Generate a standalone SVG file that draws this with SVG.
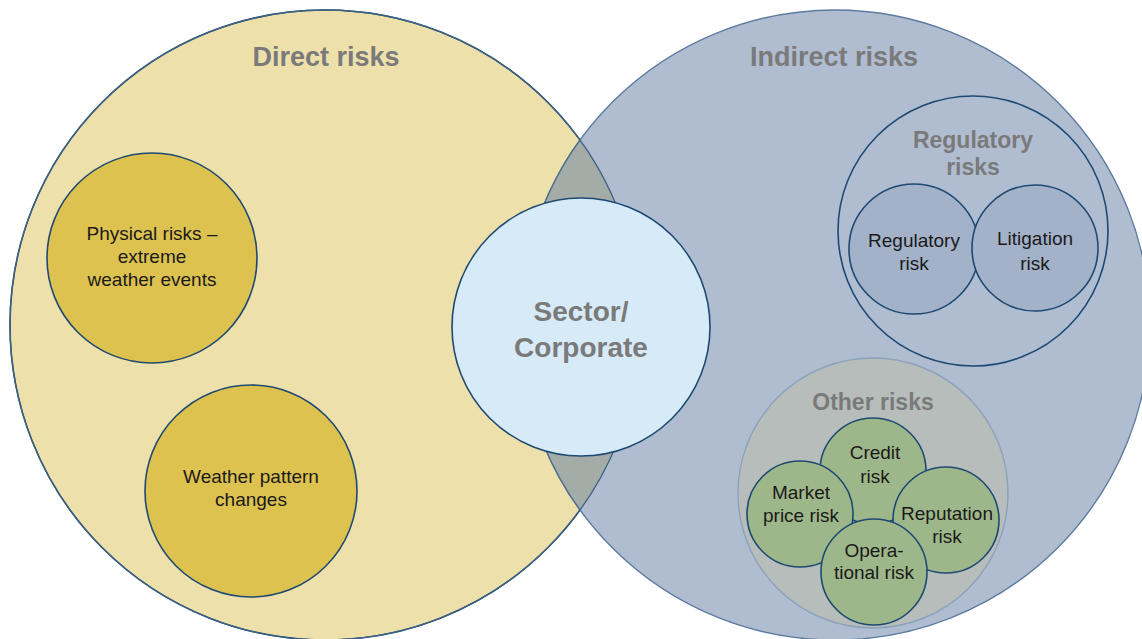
<svg xmlns="http://www.w3.org/2000/svg" width="1142" height="639" viewBox="0 0 1142 639">
  <defs>
    <clipPath id="clipDirect">
      <circle cx="325" cy="325" r="315"/>
    </clipPath>
    <style>
      .title { font-family: "Liberation Sans", Arial, sans-serif; font-weight: bold; fill: #7a7a7a; text-anchor: middle; }
      .label { font-family: "Liberation Sans", Arial, sans-serif; font-size: 19px; fill: #1a1a1a; text-anchor: middle; }
      .navy { stroke: #1d4a72; stroke-width: 1.6; }
    </style>
  </defs>
  <rect width="1142" height="639" fill="#ffffff"/>

  <!-- Direct risks -->
  <g id="direct-risks">
    <circle cx="325" cy="325" r="315" fill="#eee0ab" class="navy"/>
    <text class="title" x="326" y="66" font-size="27">Direct risks</text>
  </g>

  <!-- Indirect risks -->
  <g id="indirect-risks">
    <circle cx="835" cy="325" r="315" fill="#b0bdd1" stroke="#5d7ba0" stroke-width="1.4"/>
    <text class="title" x="834" y="66" font-size="27">Indirect risks</text>
  </g>

  <!-- Overlap of the two spheres -->
  <g id="overlap">
    <circle cx="835" cy="325" r="315" fill="#a3aca7" stroke="#4f6f90" stroke-width="1.4" clip-path="url(#clipDirect)"/>
    <circle cx="325" cy="325" r="315" fill="none" stroke="#3e6283" stroke-width="1.3"/>
  </g>

  <!-- Physical risks -->
  <g id="physical-risks">
    <circle cx="152" cy="258" r="105" fill="#ddc250" class="navy"/>
    <text class="label" x="152" y="240">Physical risks –</text>
    <text class="label" x="152" y="263">extreme</text>
    <text class="label" x="152" y="286">weather events</text>
  </g>

  <!-- Weather pattern changes -->
  <g id="weather-pattern">
    <circle cx="251" cy="491" r="106" fill="#ddc250" class="navy"/>
    <text class="label" x="251" y="483">Weather pattern</text>
    <text class="label" x="251" y="506">changes</text>
  </g>

  <!-- Sector / Corporate -->
  <g id="sector-corporate">
    <circle cx="581" cy="327" r="129" fill="#d6eaf8" class="navy"/>
    <text class="title" x="581" y="321" font-size="28" fill="#6e6e6e">Sector/</text>
    <text class="title" x="581" y="357" font-size="28" fill="#6e6e6e">Corporate</text>
  </g>

  <!-- Regulatory risks -->
  <g id="regulatory-risks">
    <circle cx="973" cy="231" r="135" fill="#b0bdd1" class="navy"/>
    <text class="title" x="973" y="148" font-size="23">Regulatory</text>
    <text class="title" x="973" y="175" font-size="23">risks</text>
  </g>
  <g id="regulatory-risk">
    <circle cx="914" cy="249" r="65" fill="#a3b1c9" class="navy"/>
    <text class="label" x="914" y="247">Regulatory</text>
    <text class="label" x="914" y="270">risk</text>
  </g>
  <g id="litigation-risk">
    <circle cx="1035" cy="248" r="63" fill="#a3b1c9" class="navy"/>
    <text class="label" x="1035" y="245">Litigation</text>
    <text class="label" x="1035" y="270">risk</text>
  </g>

  <!-- Other risks -->
  <g id="other-risks">
    <circle cx="873" cy="493" r="135" fill="#b6bdba" stroke="#8ba1bc" stroke-width="1.4"/>
    <text class="title" x="873" y="410" font-size="23">Other risks</text>
  </g>
  <g id="credit-risk">
    <circle cx="873" cy="471" r="53" fill="#9eb78a" class="navy"/>
    <text class="label" x="875" y="459">Credit</text>
    <text class="label" x="875" y="483">risk</text>
  </g>
  <g id="market-price-risk">
    <circle cx="800" cy="514" r="53" fill="#9eb78a" class="navy"/>
    <text class="label" x="801" y="499">Market</text>
    <text class="label" x="801" y="522">price risk</text>
  </g>
  <g id="reputation-risk">
    <circle cx="946" cy="520" r="53" fill="#9eb78a" class="navy"/>
    <text class="label" x="947" y="520">Reputation</text>
    <text class="label" x="947" y="543">risk</text>
  </g>
  <g id="operational-risk">
    <circle cx="874" cy="572" r="53" fill="#9eb78a" class="navy"/>
    <text class="label" x="874" y="557">Opera-</text>
    <text class="label" x="874" y="579">tional risk</text>
  </g>

  <g id="connectors"/>
</svg>
